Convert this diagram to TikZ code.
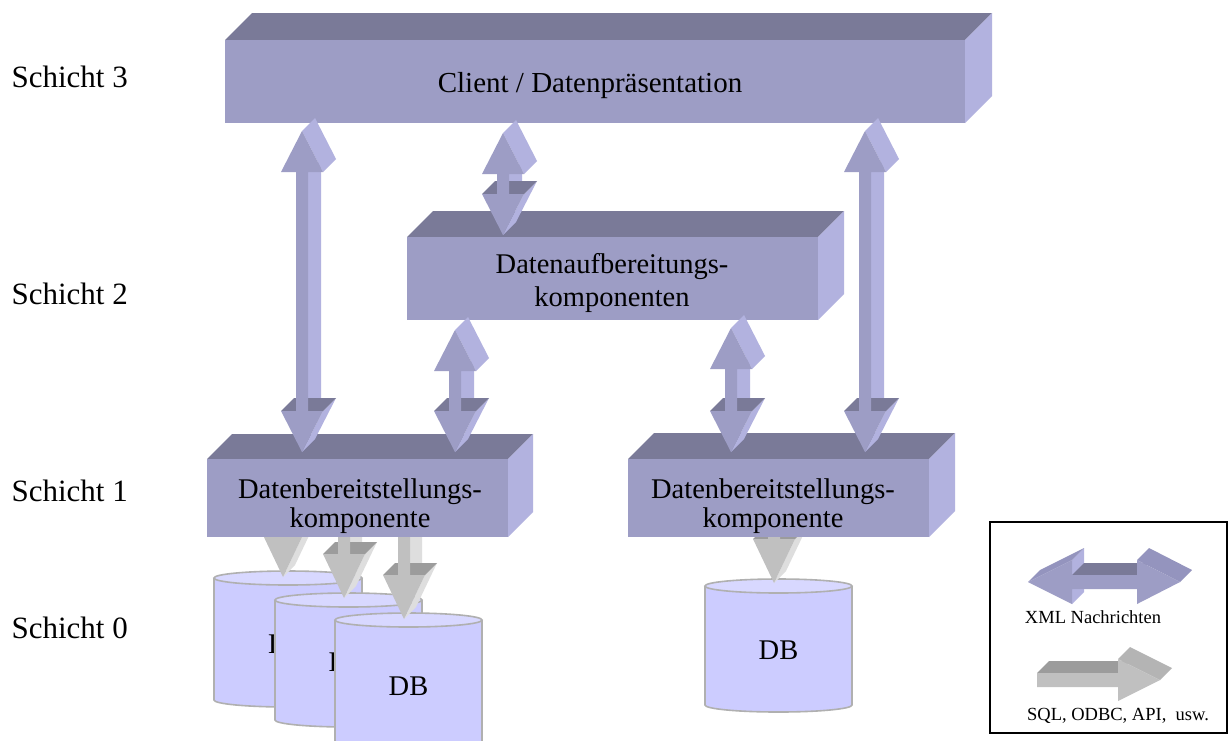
\documentclass[tikz,border=0pt]{standalone}
\usepackage{fontspec}
\setmainfont{Liberation Serif}

\definecolor{facefront}{HTML}{9D9DC5}
\definecolor{facetop}{HTML}{7A7A98}
\definecolor{faceside}{HTML}{B2B2DF}
\definecolor{faceslope}{HTML}{9494BE}
\definecolor{grayfront}{HTML}{C0C0C0}
\definecolor{graytop}{HTML}{9C9C9C}
\definecolor{grayside}{HTML}{DEDEDE}
\definecolor{grayslope}{HTML}{B4B4B4}
\definecolor{dbbody}{HTML}{CCCCFF}
\definecolor{dbtop}{HTML}{D8D8FF}
\definecolor{dbline}{HTML}{B0B0B0}

% extruded slab: name, x1, y1, x2, y2 (front face), depth
\newcommand{\slab}[6]{%
  \fill[facetop] (#2,#3) -- ({#2+#6},{#3-#6}) -- ({#4+#6},{#3-#6}) -- (#4,#3) -- cycle;
  \fill[faceside] (#4,#3) -- ({#4+#6},{#3-#6}) -- ({#4+#6},{#5-#6}) -- (#4,#5) -- cycle;
  \fill[facefront] (#2,#3) rectangle (#4,#5);
  \coordinate (#1) at ({(#2+#4)/2},{(#3+#5)/2});
}

% vertical double-headed message arrow: centre x, upper apex y, lower apex y
\newcommand{\xmlvert}[3]{%
  \fill[faceside] ({#1+6},{#2+41}) -- ({#1+6},{#3-41}) -- ({#1+19},{#3-54}) -- ({#1+19},{#2+28}) -- cycle;
  \fill[faceside] (#1,#2) -- ({#1+21},{#2+41}) -- ({#1+34},{#2+28}) -- ({#1+13},{#2-13}) -- cycle;
  \fill[faceside] ({#1+21},{#3-41}) -- (#1,#3) -- ({#1+13},{#3-13}) -- ({#1+34},{#3-54}) -- cycle;
  \fill[facetop] ({#1-21},{#3-41}) -- ({#1+21},{#3-41}) -- ({#1+34},{#3-54}) -- ({#1-8},{#3-54}) -- cycle;
  \fill[facefront] (#1,#2) -- ({#1+21},{#2+41}) -- ({#1+6},{#2+41}) -- ({#1+6},{#3-41})
    -- ({#1+21},{#3-41}) -- (#1,#3) -- ({#1-21},{#3-41}) -- ({#1-6},{#3-41})
    -- ({#1-6},{#2+41}) -- ({#1-21},{#2+41}) -- cycle;
}

% vertical single gray access arrow: centre x, shaft top y, apex y
\newcommand{\sqlvert}[3]{%
  \fill[grayside] ({#1+6},#2) -- ({#1+6},{#3-44}) -- ({#1+18},{#3-56}) -- ({#1+18},{#2-12}) -- cycle;
  \fill[grayside] ({#1+21},{#3-44}) -- (#1,#3) -- ({#1+12},{#3-12}) -- ({#1+33},{#3-56}) -- cycle;
  \fill[graytop] ({#1-21},{#3-44}) -- ({#1+21},{#3-44}) -- ({#1+33},{#3-56}) -- ({#1-9},{#3-56}) -- cycle;
  \fill[grayfront] ({#1-6},#2) -- ({#1+6},#2) -- ({#1+6},{#3-44}) -- ({#1+21},{#3-44})
    -- (#1,#3) -- ({#1-21},{#3-44}) -- ({#1-6},{#3-44}) -- cycle;
}

% database cylinder: name, x1, x2, top y, bottom y, label y, label
\newcommand{\dbcyl}[7]{%
  \filldraw[fill=dbbody,draw=dbline,line width=1.6pt]
    (#2,#4) -- (#2,#5) arc[start angle=180,end angle=0,x radius={(#3-#2)/2},y radius=7]
    -- (#3,#4);
  \filldraw[fill=dbtop,draw=dbline,line width=1.6pt]
    ({(#2+#3)/2},#4) ellipse[x radius={(#3-#2)/2},y radius=7];
  \node[dbtext] (#1) at ({(#2+#3)/2},#6) {#7};
}

\begin{document}
\begin{tikzpicture}[x=1pt,y=-1pt,
  layer/.style={anchor=west,font=\fontsize{31}{36}\selectfont},
  boxtext/.style={align=center,inner sep=0pt,font=\fontsize{28.5}{33}\selectfont},
  boxtextlow/.style={align=center,inner sep=0pt,font=\fontsize{28.5}{29.5}\selectfont},
  dbtext/.style={inner sep=0pt,font=\fontsize{28.5}{33}\selectfont},
  legendtext/.style={inner sep=0pt,font=\fontsize{18.5}{22}\selectfont}]
\useasboundingbox (0,0) rectangle (1230,740);
\clip (0,0) rectangle (1230,740);
\fill[white] (0,0) rectangle (1230,740);

% layer captions
\node[layer] (s3) at (8,77) {Schicht 3};
\node[layer] (s2) at (8,294) {Schicht 2};
\node[layer] (s1) at (8,491) {Schicht 1};
\node[layer] (s0) at (8,628) {Schicht 0};

% databases of layer 0
\dbcyl{dbA}{214}{362}{578}{700}{644}{DB}
\dbcyl{dbB}{275}{422}{600}{720}{662}{DB}
\dbcyl{dbC}{335}{482}{620}{775}{686}{DB}
\dbcyl{dbD}{705}{852}{586}{705}{650}{DB}

% gray access arrows from the providers to the databases
\sqlvert{283}{500}{577}
\sqlvert{344}{500}{598}
\sqlvert{404}{500}{619}
\sqlvert{774}{500}{583}

% component slabs
\slab{client}{225}{40}{965}{123}{27}
\slab{prep}{407}{237}{818}{320}{26}
\slab{provL}{207}{459}{508}{537}{25}
\slab{provR}{628}{459}{929}{537}{26}

\node[boxtext,font=\fontsize{29}{33}\selectfont] (clientlabel) at (590,86) {Client / Datenpräsentation};
\node[boxtext] (preplabel) at (612,283) {Datenaufbereitungs-\\komponenten};
\node[boxtextlow] (provLlabel) at (360,506) {Datenbereitstellungs-\\komponente};
\node[boxtextlow] (provRlabel) at (773,506) {Datenbereitstellungs-\\komponente};

% XML message arrows between the layers
\xmlvert{302}{131}{452}
\xmlvert{503}{133}{235}
\xmlvert{455}{330}{452}
\xmlvert{731}{328}{452}
\xmlvert{865}{131}{452}

% legend
\draw[line width=2pt] (990,522) rectangle (1227,733);
% double message arrow sample
\fill[faceside] (1072,560) -- (1072,604) -- (1084,592) -- (1084,548) -- cycle;
\fill[faceslope] (1028,582) -- (1072,560) -- (1084,548) -- (1040,570) -- cycle;
\fill[facetop] (1072,575) -- (1137,575) -- (1149,563) -- (1084,563) -- cycle;
\fill[faceslope] (1137,560) -- (1180,582) -- (1192,570) -- (1149,548) -- cycle;
\fill[facefront] (1028,582) -- (1072,560) -- (1072,575) -- (1137,575) -- (1137,560)
  -- (1180,582) -- (1137,604) -- (1137,589) -- (1072,589) -- (1072,604) -- cycle;
\node[legendtext] (xmlleg) at (1093,617) {XML Nachrichten};
% access arrow sample
\fill[graytop] (1037,673) -- (1118,673) -- (1130,661) -- (1049,661) -- cycle;
\fill[grayslope] (1118,659) -- (1160,680) -- (1172,668) -- (1130,647) -- cycle;
\fill[grayfront] (1037,673) -- (1118,673) -- (1118,659) -- (1160,680) -- (1118,701)
  -- (1118,687) -- (1037,687) -- cycle;
\node[legendtext] (sqlleg) at (1118,716) {SQL, ODBC, API,~ usw.};
\end{tikzpicture}
\end{document}
